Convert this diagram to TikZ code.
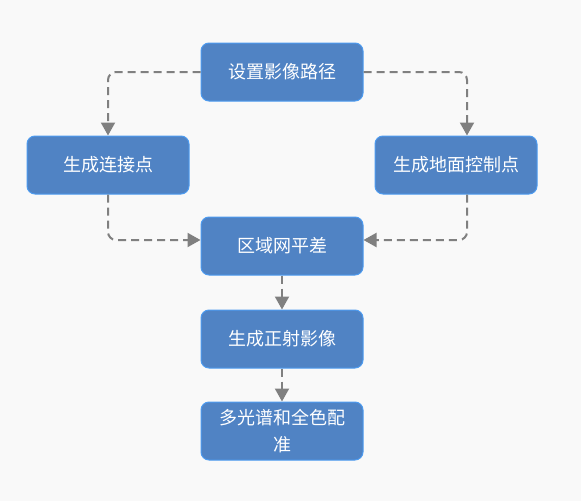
\documentclass[tikz,border=0pt]{standalone}
\usepackage{fontspec}
\newfontfamily\cjk{Noto Sans CJK SC}
\usetikzlibrary{arrows.meta}
\definecolor{bg}{HTML}{F9F9F9}
\definecolor{boxfill}{HTML}{5083C4}
\definecolor{boxline}{HTML}{4D9BF0}
\definecolor{conncol}{HTML}{808080}
\tikzset{
  stepbox/.style={draw=boxline, line width=1pt, fill=boxfill, rounded corners=8pt,
    minimum width=162pt, minimum height=58pt, inner sep=2pt, text=white,
    font=\cjk\fontsize{18}{27}\selectfont, align=center},
  conn/.style={draw=conncol, line width=2pt, dash pattern=on 8pt off 5pt,
    rounded corners=8pt, -{Triangle[width=14pt,length=13pt]}, fill=none}
}
\begin{document}
\begin{tikzpicture}[x=1pt,y=-1pt]
\useasboundingbox[fill=bg] (0,0) rectangle (581,501);
\node[stepbox] (top) at (282,72) {设置影像路径};
\node[stepbox] (lb) at (108,165) {生成连接点};
\node[stepbox] (rb) at (456,165) {生成地面控制点};
\node[stepbox] (mid) at (282,246) {区域网平差};
\node[stepbox] (ortho) at (282,339) {生成正射影像};
\node[stepbox] (reg) at (282,431) {多光谱和全色配\\准};
\draw[conn] (top.west) -| (lb.north);
\draw[conn] (top.east) -| ([xshift=11pt]rb.north);
\draw[conn] (lb.south) |- ([yshift=6pt]mid.west);
\draw[conn] ([xshift=11pt]rb.south) |- ([yshift=6pt]mid.east);
\draw[conn] (mid.south) -- (ortho.north);
\draw[conn] (ortho.south) -- (reg.north);
\end{tikzpicture}
\end{document}
